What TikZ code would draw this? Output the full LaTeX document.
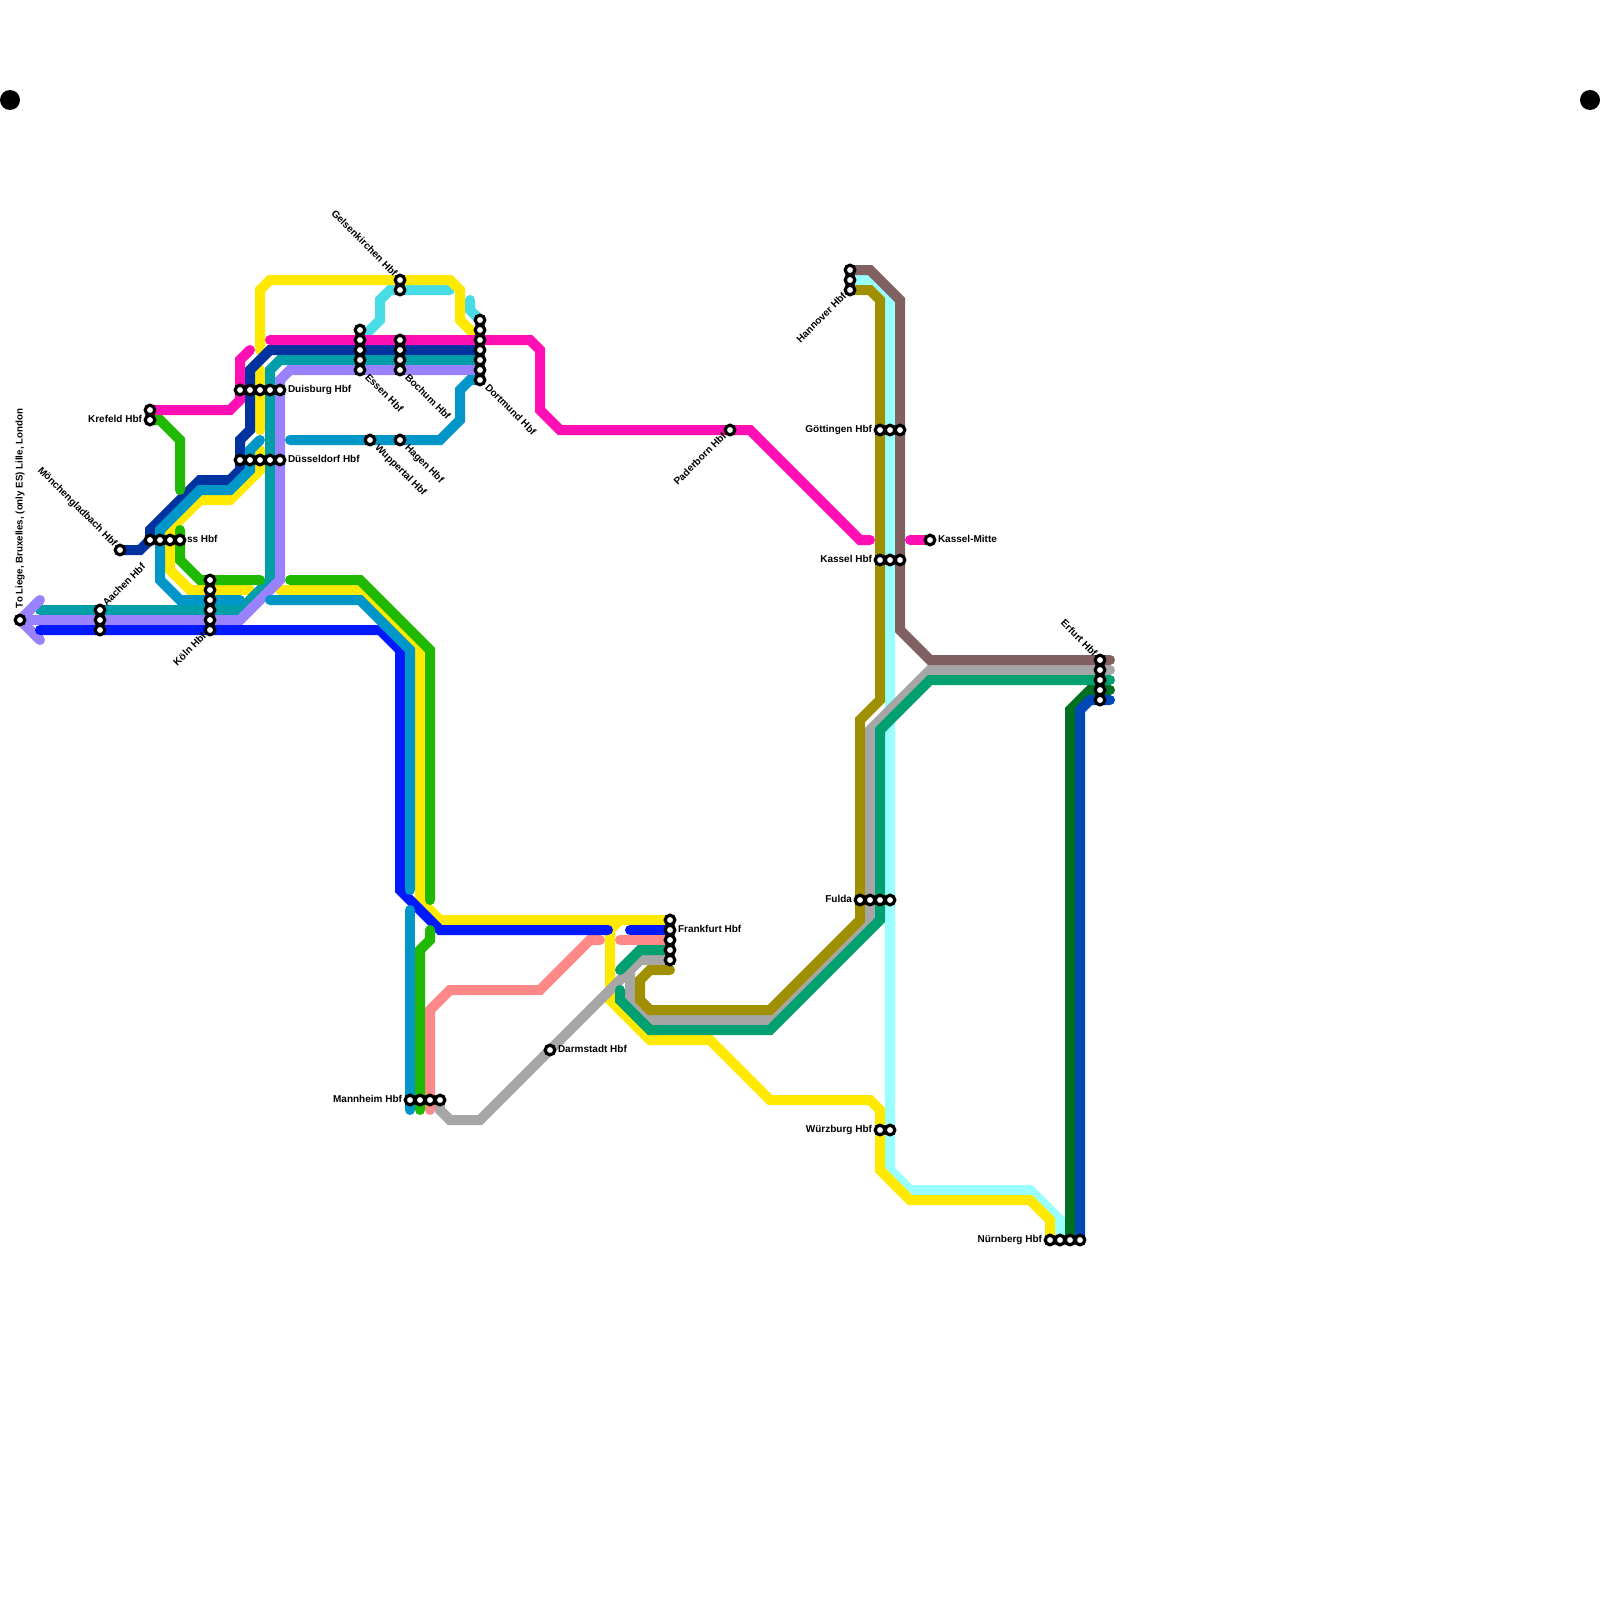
\documentclass[tikz,border=0pt]{standalone}
\usepackage{fontspec}
\setmainfont{Liberation Sans}
\usepackage{xcolor}
\usepackage{tikz}
\usetikzlibrary{positioning,backgrounds}
\definecolor{cpink}{HTML}{FF0FB4}
\definecolor{cnavy}{HTML}{0033A0}
\definecolor{cazure}{HTML}{0096C8}
\definecolor{cyell}{HTML}{FFE900}
\definecolor{cgreen}{HTML}{1EB900}
\definecolor{cteal}{HTML}{009EA8}
\definecolor{cviolet}{HTML}{9A82FF}
\definecolor{cblue}{HTML}{0019FF}
\definecolor{ccyan}{HTML}{48DCE4}
\definecolor{csalmon}{HTML}{FF8888}
\definecolor{cgray}{HTML}{A6A6A6}
\definecolor{csea}{HTML}{00A070}
\definecolor{colive}{HTML}{A09000}
\definecolor{cice}{HTML}{99FFFF}
\definecolor{cbrown}{HTML}{806060}
\definecolor{cforest}{HTML}{007020}
\definecolor{croyal}{HTML}{0047B8}
\tikzset{
  stn/.style={circle, draw=black, fill=white, line width=3.2pt, inner sep=0pt, minimum size=9.6pt},
  dotn/.style={circle, fill=black, inner sep=0pt, minimum size=20pt},
  lbl/.style={font=\fontsize{10}{12}\selectfont\bfseries, inner sep=0pt, text height=7.2pt, text depth=2.1pt},
  rail/.style={line width=10pt, line cap=round}
}
\begin{document}
\begin{tikzpicture}[x=1pt,y=-1pt]
\useasboundingbox (0,0) rectangle (1600,1600);
\node[dotn] (dotl) at (10,100) {};
\node[dotn] (dotr) at (1590,100) {};
\foreach \n/\x/\y/\c in {aach/100/610/3,koln/210/580/6,kref/150/410/2,essn/360/330/5,boch/400/340/4,gels/400/280/2,dort/480/320/7,hann/850/270/3,erft/1100/660/5,frft/670/920/5}
  {\foreach \i in {1,...,\c} \node[stn] (\n\i) at (\x,{\y+10*(\i-1)}) {};}
\foreach \n/\x/\y/\c in {neus/150/540/4,duis/240/390/5,duss/240/460/5,gott/880/430/3,kass/880/560/3,flda/860/900/4,mann/410/1100/4,wurz/880/1130/2,nurn/1050/1240/4}
  {\foreach \i in {1,...,\c} \node[stn] (\n\i) at ({\x+10*(\i-1)},\y) {};}
\node[stn] (liege) at (20,620) {};
\node[stn] (mgla) at (120,550) {};
\node[stn] (wupp) at (370,440) {};
\node[stn] (hagn) at (400,440) {};
\node[stn] (pade) at (730,430) {};
\node[stn] (kmit) at (930,540) {};
\node[stn] (darm) at (550,1050) {};

\begin{scope}[on background layer]
\draw[rail, cice] (hann2.center)--(870,280)--(890,300)--(890,1170)--(910,1190)--(1030,1190)--(1060,1220)--(nurn2.center);
\draw[rail, ccyan] (essn2.center)--(380,320)--(380,300)--(390,290)--(450,290);
\draw[rail, ccyan] (470,300)--(470,310)--(dort1.center);
\draw[rail, cyell] (260,350)--(260,290)--(270,280)--(450,280)--(460,290)--(460,320)--(dort3.center);
\draw[rail, cyell] (260,370)--(260,430);
\draw[rail, cyell] (260,450)--(260,470)--(230,500)--(200,500)--(170,530)--(170,570)--(190,590)--(250,590);
\draw[rail, cyell] (280,590)--(360,590)--(420,650)--(420,900)--(440,920)--(frft1.center);
\draw[rail, cyell] (620,920)--(610,930)--(610,1000)--(650,1040)--(710,1040)--(770,1100)--(870,1100)--(880,1110)--(880,1170)--(910,1200)--(1030,1200)--(1050,1220)--(nurn1.center);
\draw[rail, cgray] (mann4.center)--(440,1110)--(450,1120)--(480,1120)--(640,960)--(frft5.center);
\draw[rail, cgray] (640,960)--(630,970)--(630,1000)--(650,1020)--(770,1020)--(870,920)--(870,730)--(930,670)--(1110,670);
\draw[rail, cbrown] (hann1.center)--(870,270)--(900,300)--(900,630)--(930,660)--(1110,660);
\draw[rail, colive] (hann3.center)--(870,290)--(880,300)--(880,700)--(860,720)--(860,920)--(770,1010)--(650,1010)--(640,1000)--(640,980)--(650,970)--(670,970);
\draw[rail, cteal] (40,610)--(240,610)--(270,580)--(270,370)--(280,360)--(dort5.center);
\draw[rail, cviolet, line join=round] (40,600)--(liege.center)--(40,640);
\draw[rail, cviolet] (liege.center)--(240,620)--(280,580)--(280,380)--(290,370)--(dort6.center);
\draw[rail, cnavy] (mgla.center)--(140,550)--(150,540)--(150,530)--(200,480)--(230,480)--(240,470)--(240,440)--(250,430)--(250,370)--(270,350)--(dort4.center);
\draw[rail, cpink] (kref1.center)--(230,410)--(240,400)--(240,360)--(250,350);
\draw[rail, cpink] (270,340)--(530,340)--(540,350)--(540,410)--(560,430)--(750,430)--(860,540)--(870,540);
\draw[rail, cpink] (910,540)--(kmit.center);
\draw[rail, csalmon] (430,1110)--(430,1010)--(450,990)--(540,990)--(590,940)--(600,940);
\draw[rail, csalmon] (620,940)--(frft3.center);
\draw[rail, cblue] (40,630)--(380,630)--(400,650)--(400,890)--(440,930)--(608,930);
\draw[rail, cblue] (630,930)--(frft2.center);
\draw[rail, cazure] (260,440)--(250,450)--(250,470)--(230,490)--(200,490)--(160,530)--(160,580)--(180,600)--(240,600);
\draw[rail, cazure] (270,600)--(360,600)--(410,650)--(410,890);
\draw[rail, cazure] (410,910)--(410,1110);
\draw[rail, cazure] (290,440)--(440,440)--(460,420)--(460,390)--(470,380)--(dort7.center);
\draw[rail, cgreen] (kref2.center)--(160,420)--(180,440)--(180,490);
\draw[rail, cgreen] (180,530)--(180,560)--(200,580)--(260,580);
\draw[rail, cgreen] (290,580)--(360,580)--(430,650)--(430,900);
\draw[rail, cgreen] (430,930)--(430,940)--(420,950)--(420,1110);
\draw[rail, csea] (620,970)--(640,950)--(frft4.center);
\draw[rail, csea] (620,990)--(620,1000)--(650,1030)--(770,1030)--(880,920)--(880,730)--(930,680)--(1110,680);
\draw[rail, cforest] (1110,690)--(1090,690)--(1070,710)--(nurn3.center);
\draw[rail, croyal] (1110,700)--(1090,700)--(1080,710)--(nurn4.center);
\end{scope}

\node[lbl, font=\fontsize{9.72}{12}\selectfont\bfseries, above=5.4pt of liege, anchor=west, rotate=90] (liegel) {To Liege, Bruxelles, (only ES) Lille, London};
\node[lbl, above right=0.4pt of aach1, anchor=west, rotate=45] (aachl) {Aachen Hbf};
\node[lbl, left=1.4pt of kref2] (krefl) {Krefeld Hbf};
\node[lbl, above left=0.4pt of mgla, anchor=east, rotate=-45] (mglal) {Mönchengladbach Hbf};
\node[lbl, right=0.4pt of neus4] (neusl) {ss Hbf};
\node[lbl, below left=0.4pt of koln6, anchor=east, rotate=45] (kolnl) {Köln Hbf};
\node[lbl, right=1.4pt of duis5] (duisl) {Duisburg Hbf};
\node[lbl, right=1.4pt of duss5] (dussl) {Düsseldorf Hbf};
\node[lbl, below right=2.4pt of essn5, anchor=west, rotate=-45] (essnl) {Essen Hbf};
\node[lbl, below right=2.4pt of boch4, anchor=west, rotate=-45] (bochl) {Bochum Hbf};
\node[lbl, below right=2.4pt of dort7, anchor=west, rotate=-45] (dortl) {Dortmund Hbf};
\node[lbl, below right=2.4pt of wupp, anchor=west, rotate=-45] (wuppl) {Wuppertal Hbf};
\node[lbl, below right=2.4pt of hagn, anchor=west, rotate=-45] (hagnl) {Hagen Hbf};
\node[lbl, above left=0.4pt of gels1, anchor=east, rotate=-45] (gelsl) {Gelsenkirchen Hbf};
\node[lbl, below left=0.4pt of hann3, anchor=east, rotate=45] (hannl) {Hannover Hbf};
\node[lbl, below left=0.4pt of pade, anchor=east, rotate=45] (padel) {Paderborn Hbf};
\node[lbl, left=1.4pt of gott1] (gottl) {Göttingen Hbf};
\node[lbl, left=1.4pt of kass1] (kassl) {Kassel Hbf};
\node[lbl, right=1.4pt of kmit] (kmitl) {Kassel-Mitte};
\node[lbl, above left=0.4pt of erft1, anchor=east, rotate=-45] (erftl) {Erfurt Hbf};
\node[lbl, left=1.4pt of flda1] (fldal) {Fulda};
\node[lbl, right=1.4pt of frft2] (frftl) {Frankfurt Hbf};
\node[lbl, right=1.4pt of darm] (darml) {Darmstadt Hbf};
\node[lbl, left=1.4pt of mann1] (mannl) {Mannheim Hbf};
\node[lbl, left=1.4pt of wurz1] (wurzl) {Würzburg Hbf};
\node[lbl, left=1.4pt of nurn1] (nurnl) {Nürnberg Hbf};
\end{tikzpicture}
\end{document}
